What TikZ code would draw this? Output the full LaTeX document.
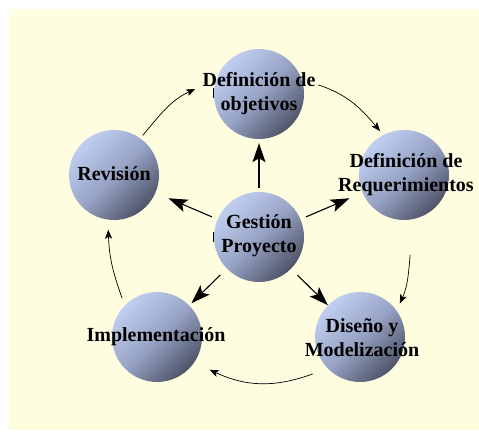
\documentclass[tikz,border=0pt]{standalone}
\usepackage{fontspec}
\setmainfont{Liberation Serif}
\usetikzlibrary{arrows.meta,calc}
\definecolor{paper}{RGB}{255,253,224}
\definecolor{orbtop}{RGB}{192,206,240}
\definecolor{orbmid}{RGB}{152,164,198}
\definecolor{orbbot}{RGB}{78,84,104}

\begin{document}
\begin{tikzpicture}[x=1pt,y=1pt,
  orb/.style={circle, minimum size=90pt, inner sep=0pt,
    top color=orbtop, bottom color=orbbot, middle color=orbmid, shading angle=45},
  lbl/.style={align=center, font=\bfseries\fontsize{20}{24}\selectfont, text=black},
  hub/.style={-{Stealth[length=19pt,width=13pt,inset=4pt]}, line width=1.1pt},
  cyc/.style={-{Stealth[length=9pt,width=7pt,inset=2pt]}, line width=0.7pt},
  tick/.style={line width=1pt}]

% page and cream panel
\fill[white] (0,0) rectangle (479,433);
\fill[paper] (9,3) rectangle (479,424);

% the six spheres
\node[orb] (obj) at (259,339) {};
\node[orb] (req) at (404,258) {};
\node[orb] (ges) at (259,196) {};
\node[orb] (rev) at (114,258) {};
\node[orb] (imp) at (157,96) {};
\node[orb] (dis) at (360,96) {};

% labels
\node[lbl] (objT) at (259,339) {Definición de\\objetivos};
\node[lbl] (reqT) at (406,258) {Definición de\\Requerimientos};
\node[lbl] (gesT) at (259,197) {Gestión\\Proyecto};
\node[lbl] (revT) at (114,259) {Revisión};
\node[lbl] (impT) at (156,96) {Implementación};
\node[lbl] (disT) at (362,95) {Diseño y\\Modelización};

% small text cursors
\draw[tick] (213,335) -- (213,345);
\draw[tick] (213,191) -- (213,201);

% hub arrows from the management sphere
\draw[hub, shorten <=4pt, shorten >=4pt] (ges) -- (obj);
\draw[hub, shorten <=6pt, shorten >=14pt] (ges) -- (rev);
\draw[hub, shorten <=6pt, shorten >=14pt] (ges) -- (req);
\draw[hub, shorten <=9pt, shorten >=3pt] (ges) -- (imp);
\draw[hub, shorten <=9pt, shorten >=0pt] (ges) -- (dis);

% outer cycle
\draw[cyc] ($(rev)+(54:49pt)$) to[out=50,in=205] ($(obj)+(175.5:64pt)$);
\draw[cyc] ($(obj)+(8.7:60pt)$) to[out=-18,in=130] ($(req)+(118.6:50pt)$);
\draw[cyc] ($(req)+(-85.6:80pt)$) to[out=-95,in=66] ($(dis)+(40:52pt)$);
\draw[cyc] ($(dis)+(218:60pt)$) to[out=200,in=-25] ($(imp)+(-31.9:62pt)$);
\draw[cyc] ($(imp)+(132:52pt)$) to[out=110,in=-88] ($(rev)+(-96:55pt)$);
\end{tikzpicture}
\end{document}
